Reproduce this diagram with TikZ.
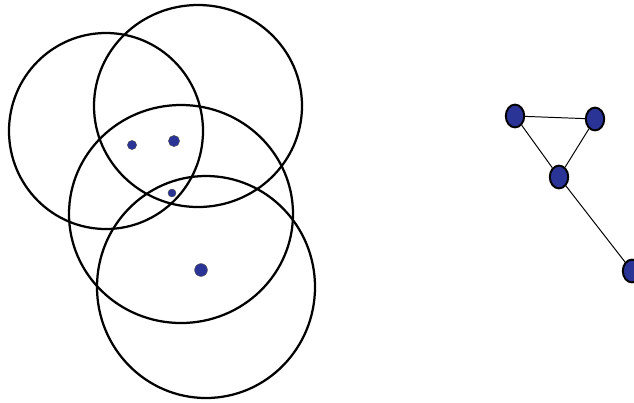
\documentclass[tikz,border=0pt]{standalone}
\usepackage{tikz}
\usetikzlibrary{shapes.geometric}
\definecolor{dotblue}{RGB}{42,52,150}

\begin{document}
\begin{tikzpicture}[x=.25mm,y=-.25mm,
    rng/.style={line width=1.6pt},
    pt/.style={circle,fill=dotblue,draw=black!70,line width=.3pt,inner sep=0pt},
    vtx/.style={ellipse,fill=dotblue,draw=black,line width=1.4pt,inner sep=0pt,minimum width=4.6mm,minimum height=5.7mm}]
    \clip (0,0) rectangle (634,402);
    % ranges
    \draw[rng] (106,131) ellipse (97 and 98);
    \draw[rng] (198,106) ellipse (104 and 101);
    \draw[rng] (181,214) ellipse (112 and 109);
    \draw[rng] (206,287) ellipse (109 and 111);
    % points
    \node[pt,minimum size=2.3mm] (p1) at (132,145) {};
    \node[pt,minimum size=2.8mm] (p2) at (174,141) {};
    \node[pt,minimum size=2mm] (p3) at (172,193) {};
    \node[pt,minimum size=3.2mm] (p4) at (201,270) {};
    % graph
    \node[vtx] (a) at (515,116) {};
    \node[vtx] (b) at (595,119) {};
    \node[vtx] (c) at (559,177) {};
    \node[vtx] (d) at (632,271) {};
    \draw[line width=.7pt] (a) -- (b);
    \draw[line width=.7pt] (a) -- (c);
    \draw[line width=.7pt] (b) -- (c);
    \draw[line width=.7pt] (c) -- (d);
  \end{tikzpicture}
\end{document}
